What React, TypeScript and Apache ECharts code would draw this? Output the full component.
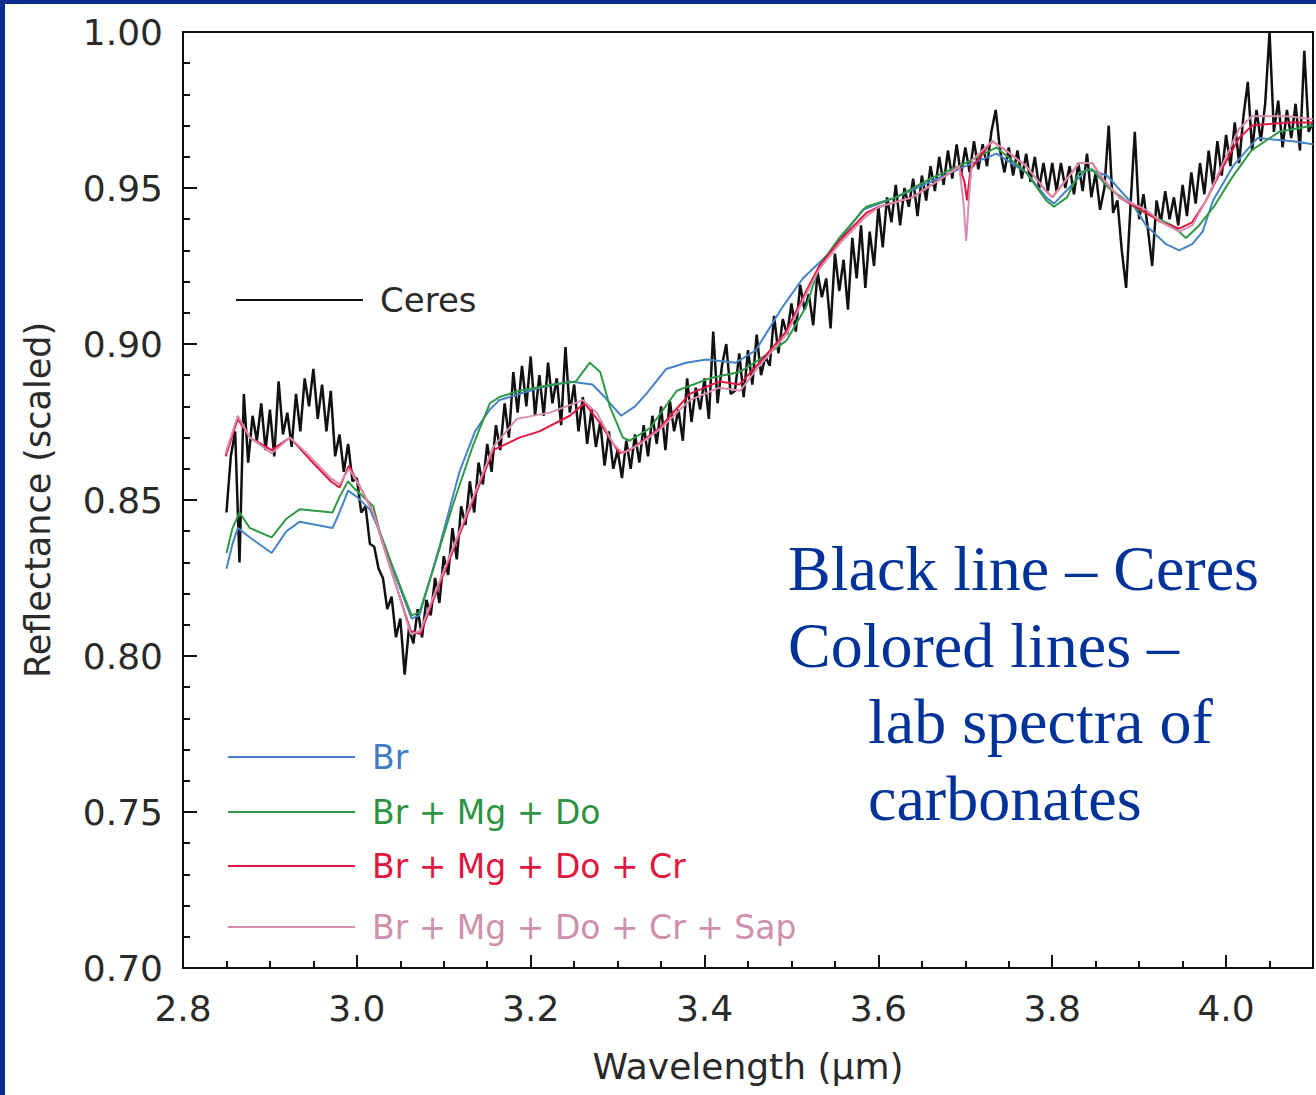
import React, { useEffect, useRef } from "react";
import * as echarts from "echarts";

// Wavelength grid of the Ceres spectrum (µm)
const CERES_START = 2.85;
const CERES_STEP = 0.005;

// Ceres reflectance, one value per grid step from 2.850 to 4.100 µm
const CERES: number[] = [
  0.846, 0.864, 0.872, 0.830, 0.884, 0.862, 0.877, 0.869, 0.881, 0.866,
  0.879, 0.864, 0.888, 0.871, 0.878, 0.867, 0.884, 0.872, 0.889, 0.880,
  0.892, 0.876, 0.887, 0.872, 0.885, 0.864, 0.871, 0.859, 0.868, 0.856,
  0.857, 0.846, 0.848, 0.836, 0.835, 0.828, 0.825, 0.815, 0.819, 0.806,
  0.812, 0.794, 0.809, 0.804, 0.815, 0.806, 0.818, 0.813, 0.825, 0.817,
  0.832, 0.826, 0.841, 0.831, 0.848, 0.842, 0.856, 0.846, 0.862, 0.855,
  0.868, 0.859, 0.874, 0.866, 0.881, 0.870, 0.891, 0.878, 0.893, 0.880,
  0.896, 0.877, 0.890, 0.877, 0.894, 0.881, 0.889, 0.874, 0.899, 0.878,
  0.887, 0.872, 0.883, 0.868, 0.879, 0.867, 0.875, 0.861, 0.872, 0.860,
  0.866, 0.857, 0.869, 0.860, 0.871, 0.862, 0.874, 0.864, 0.877, 0.868,
  0.880, 0.866, 0.882, 0.872, 0.879, 0.869, 0.889, 0.875, 0.886, 0.879,
  0.889, 0.876, 0.904, 0.881, 0.893, 0.900, 0.884, 0.885, 0.897, 0.883,
  0.898, 0.887, 0.903, 0.890, 0.896, 0.893, 0.909, 0.897, 0.908, 0.903,
  0.913, 0.904, 0.919, 0.911, 0.916, 0.906, 0.923, 0.915, 0.921, 0.905,
  0.929, 0.917, 0.927, 0.911, 0.934, 0.921, 0.938, 0.918, 0.936, 0.925,
  0.944, 0.931, 0.947, 0.939, 0.951, 0.938, 0.950, 0.944, 0.953, 0.941,
  0.954, 0.946, 0.957, 0.949, 0.960, 0.951, 0.962, 0.953, 0.964, 0.954,
  0.963, 0.955, 0.965, 0.956, 0.964, 0.957, 0.968, 0.975, 0.962, 0.955,
  0.963, 0.954, 0.962, 0.953, 0.961, 0.952, 0.960, 0.950, 0.958, 0.949,
  0.958, 0.949, 0.958, 0.950, 0.957, 0.948, 0.958, 0.949, 0.961, 0.947,
  0.955, 0.943, 0.950, 0.970, 0.942, 0.946, 0.930, 0.918, 0.944, 0.968,
  0.940, 0.948, 0.937, 0.925, 0.946, 0.939, 0.949, 0.940, 0.947, 0.938,
  0.951, 0.941, 0.955, 0.945, 0.958, 0.948, 0.962, 0.951, 0.965, 0.954,
  0.967, 0.957, 0.971, 0.958, 0.973, 0.984, 0.962, 0.975, 0.965, 0.977,
  1.000, 0.968, 0.978, 0.963, 0.975, 0.966, 0.977, 0.962, 0.994, 0.968, 0.971,
];

// Laboratory spectra: [wavelength µm, reflectance]
const BR: [number, number][] = [
  [2.850, 0.828], [2.857, 0.836], [2.863, 0.841], [2.877, 0.838], [2.902, 0.833],
  [2.919, 0.840], [2.934, 0.843], [2.972, 0.841], [2.980, 0.846], [2.990, 0.853],
  [3.000, 0.851], [3.015, 0.847], [3.026, 0.840], [3.044, 0.826], [3.063, 0.812],
  [3.072, 0.813], [3.095, 0.835], [3.118, 0.859], [3.136, 0.872], [3.153, 0.879],
  [3.164, 0.882], [3.210, 0.886], [3.245, 0.888], [3.271, 0.887], [3.285, 0.883],
  [3.304, 0.877], [3.320, 0.880], [3.333, 0.884], [3.356, 0.892], [3.379, 0.894],
  [3.402, 0.895], [3.436, 0.894], [3.459, 0.898], [3.490, 0.912], [3.513, 0.921],
  [3.543, 0.929], [3.582, 0.943], [3.620, 0.947], [3.660, 0.952], [3.700, 0.957],
  [3.736, 0.961], [3.770, 0.955], [3.793, 0.947], [3.802, 0.945], [3.840, 0.956],
  [3.863, 0.954], [3.892, 0.945], [3.908, 0.938], [3.931, 0.932], [3.946, 0.930],
  [3.961, 0.932], [3.973, 0.936], [3.985, 0.946], [4.008, 0.957], [4.036, 0.966],
  [4.077, 0.965], [4.100, 0.964],
];

const BR_MG_DO: [number, number][] = [
  [2.850, 0.833], [2.857, 0.841], [2.865, 0.846], [2.877, 0.841], [2.902, 0.838],
  [2.919, 0.844], [2.934, 0.847], [2.972, 0.846], [2.980, 0.851], [2.990, 0.856],
  [2.996, 0.854], [3.019, 0.848], [3.026, 0.840], [3.042, 0.828], [3.063, 0.813],
  [3.072, 0.814], [3.087, 0.827], [3.110, 0.848], [3.133, 0.867], [3.153, 0.881],
  [3.164, 0.883], [3.187, 0.885], [3.225, 0.887], [3.252, 0.888], [3.268, 0.894],
  [3.280, 0.891], [3.291, 0.880], [3.306, 0.870], [3.314, 0.869], [3.337, 0.873],
  [3.368, 0.885], [3.406, 0.889], [3.440, 0.891], [3.463, 0.895], [3.494, 0.901],
  [3.517, 0.912], [3.532, 0.925], [3.555, 0.934], [3.586, 0.944], [3.620, 0.947],
  [3.660, 0.953], [3.700, 0.958], [3.736, 0.963], [3.770, 0.955], [3.793, 0.946],
  [3.802, 0.944], [3.817, 0.947], [3.831, 0.955], [3.846, 0.956], [3.865, 0.950],
  [3.900, 0.943], [3.938, 0.938], [3.954, 0.934], [3.969, 0.938], [3.986, 0.944],
  [4.006, 0.953], [4.029, 0.962], [4.061, 0.968], [4.100, 0.970],
];

const BR_MG_DO_CR: [number, number][] = [
  [2.849, 0.864], [2.863, 0.876], [2.877, 0.870], [2.902, 0.866], [2.923, 0.870],
  [2.946, 0.863], [2.970, 0.856], [2.980, 0.854], [2.991, 0.861], [3.004, 0.854],
  [3.019, 0.846], [3.031, 0.835], [3.047, 0.821], [3.062, 0.808], [3.073, 0.807],
  [3.088, 0.818], [3.111, 0.834], [3.134, 0.850], [3.157, 0.866], [3.187, 0.870],
  [3.210, 0.872], [3.245, 0.877], [3.262, 0.881], [3.279, 0.875], [3.302, 0.865],
  [3.314, 0.866], [3.329, 0.869], [3.348, 0.873], [3.383, 0.884], [3.417, 0.888],
  [3.440, 0.887], [3.460, 0.893], [3.494, 0.904], [3.517, 0.917], [3.532, 0.925],
  [3.555, 0.933], [3.586, 0.942], [3.601, 0.944], [3.639, 0.947], [3.678, 0.954],
  [3.693, 0.957], [3.699, 0.952], [3.702, 0.946], [3.706, 0.956], [3.731, 0.965],
  [3.747, 0.962], [3.770, 0.957], [3.793, 0.949], [3.800, 0.947], [3.817, 0.953],
  [3.831, 0.958], [3.846, 0.958], [3.858, 0.953], [3.877, 0.947], [3.908, 0.942],
  [3.926, 0.939], [3.946, 0.937], [3.961, 0.939], [3.977, 0.946], [3.995, 0.956],
  [4.015, 0.966], [4.030, 0.970], [4.070, 0.971], [4.100, 0.971],
];

const BR_MG_DO_CR_SAP: [number, number][] = [
  [2.849, 0.865], [2.863, 0.877], [2.877, 0.870], [2.902, 0.865], [2.923, 0.870],
  [2.946, 0.864], [2.970, 0.857], [2.980, 0.855], [2.991, 0.860], [3.004, 0.854],
  [3.019, 0.846], [3.031, 0.835], [3.047, 0.821], [3.062, 0.807], [3.073, 0.808],
  [3.088, 0.819], [3.111, 0.835], [3.134, 0.851], [3.157, 0.867], [3.184, 0.876],
  [3.222, 0.878], [3.260, 0.882], [3.276, 0.878], [3.295, 0.868], [3.306, 0.865],
  [3.326, 0.868], [3.350, 0.873], [3.383, 0.882], [3.417, 0.886], [3.441, 0.885],
  [3.460, 0.892], [3.494, 0.903], [3.517, 0.916], [3.532, 0.924], [3.555, 0.932],
  [3.586, 0.941], [3.601, 0.944], [3.639, 0.947], [3.678, 0.954], [3.693, 0.957],
  [3.698, 0.945], [3.701, 0.933], [3.705, 0.950], [3.708, 0.959], [3.731, 0.965],
  [3.747, 0.962], [3.770, 0.957], [3.793, 0.949], [3.800, 0.947], [3.817, 0.953],
  [3.831, 0.958], [3.846, 0.958], [3.858, 0.953], [3.877, 0.947], [3.908, 0.943],
  [3.926, 0.939], [3.946, 0.936], [3.961, 0.938], [3.977, 0.946], [3.995, 0.957],
  [4.015, 0.969], [4.030, 0.973], [4.070, 0.973], [4.100, 0.972],
];

const SERIES_NAMES = [
  "Ceres",
  "Br",
  "Br + Mg + Do",
  "Br + Mg + Do + Cr",
  "Br + Mg + Do + Cr + Sap",
];
const LINE_COLORS = ["#111111", "#4582c6", "#2f9a46", "#e0173f", "#d68db0"];
const LABEL_COLORS = ["#2a2a2a", "#3f7cc4", "#2e9443", "#e0173f", "#cf90ad"];
const LINE_WIDTHS = [2.5, 2, 2, 2, 2];

const NOTE_LINES = ["Black line \u2013 Ceres", "Colored lines \u2013", "lab spectra of", "carbonates"];

const X_NAME = "Wavelength (\u00b5m)";
const Y_NAME = "Reflectance (scaled)";

const SANS = "'DejaVu Sans', Verdana, sans-serif";
const SERIF = "'Liberation Serif', 'Times New Roman', serif";
const TEXT_GREY = "#2a2a2a";

function buildOption(): echarts.EChartsOption {
  const ceresData = CERES.map((v, i) => [+(CERES_START + i * CERES_STEP).toFixed(3), v]);
  const seriesData = [ceresData, BR, BR_MG_DO, BR_MG_DO_CR, BR_MG_DO_CR_SAP];

  const legendTop = [280, 737, 792, 846, 907];
  const legendLeft = [236, 228, 228, 228, 228];

  const noteX = [788, 788, 868, 868];
  const noteBaseline = [590, 667, 743, 820];

  const axisText = { fontFamily: SANS, fontSize: 36, color: TEXT_GREY };

  return {
    animation: false,
    backgroundColor: "#ffffff",
    grid: {
      left: 183,
      top: 32,
      right: 3,
      bottom: 1095 - 968,
      show: true,
      borderColor: "#111",
      borderWidth: 2,
      backgroundColor: "transparent",
    },
    xAxis: [
      {
        type: "value",
        min: 2.8,
        max: 4.1,
        interval: 0.2,
        position: "bottom",
        axisLine: { lineStyle: { color: "#111", width: 2 } },
        axisTick: { inside: true, length: 13, lineStyle: { color: "#111", width: 2 } },
        axisLabel: {
          ...axisText,
          margin: 22,
          showMaxLabel: false,
          formatter: (v: number) => v.toFixed(1),
        },
        splitLine: { show: false },
        name: X_NAME,
        nameLocation: "middle",
        nameGap: 80,
        nameTextStyle: { fontFamily: SANS, fontSize: 36, color: TEXT_GREY },
      },
      {
        type: "value",
        min: 2.8,
        max: 4.1,
        interval: 0.05,
        position: "bottom",
        axisLine: { show: false },
        axisTick: { inside: true, length: 7, lineStyle: { color: "#111", width: 2 } },
        axisLabel: { show: false },
        splitLine: { show: false },
      },
    ],
    yAxis: [
      {
        type: "value",
        min: 0.7,
        max: 1.0,
        interval: 0.05,
        position: "left",
        axisLine: { show: true, lineStyle: { color: "#111", width: 2 } },
        axisTick: { show: true, inside: true, length: 14, lineStyle: { color: "#111", width: 2 } },
        axisLabel: { ...axisText, margin: 20, formatter: (v: number) => v.toFixed(2) },
        splitLine: { show: false },
        name: Y_NAME,
        nameLocation: "middle",
        nameGap: 128,
        nameTextStyle: { fontFamily: SANS, fontSize: 35, color: TEXT_GREY },
      },
      {
        type: "value",
        min: 0.7,
        max: 1.0,
        interval: 0.01,
        position: "left",
        axisLine: { show: false },
        axisTick: { show: true, inside: true, length: 7, lineStyle: { color: "#111", width: 2 } },
        axisLabel: { show: false },
        splitLine: { show: false },
      },
    ],
    legend: SERIES_NAMES.map((name, i) => ({
      data: [{ name, textStyle: { color: LABEL_COLORS[i] } }],
      left: legendLeft[i],
      top: legendTop[i],
      padding: 0,
      icon: "rect",
      itemWidth: 127,
      itemHeight: 2,
      selectedMode: false,
      textStyle: {
        fontFamily: SANS,
        fontSize: i === 0 ? 34 : 33,
        lineHeight: 40,
        padding: [0, 0, 0, 12],
      },
    })),
    series: SERIES_NAMES.map((name, i) => ({
      name,
      type: "line",
      data: seriesData[i],
      xAxisIndex: 0,
      yAxisIndex: 0,
      symbol: "none",
      showSymbol: false,
      color: LINE_COLORS[i],
      lineStyle: { color: LINE_COLORS[i], width: LINE_WIDTHS[i] },
      z: 2 + i,
    })),
    graphic: [
      { type: "rect", left: 0, top: 0, shape: { width: 5, height: 1095 }, style: { fill: "#0b2c8c" }, silent: true },
      { type: "rect", left: 0, top: 0, shape: { width: 1316, height: 4 }, style: { fill: "#0b2c8c" }, silent: true },
      ...NOTE_LINES.map((text, i) => ({
        type: "text" as const,
        x: noteX[i],
        y: noteBaseline[i] - 22,
        silent: true,
        style: {
          text,
          fill: "#003399",
          font: `64px ${SERIF}`,
          textAlign: "left",
          textVerticalAlign: "middle",
        },
      })),
    ],
  } as echarts.EChartsOption;
}

export default function App() {
  const ref = useRef<HTMLDivElement>(null);

  useEffect(() => {
    if (!ref.current) return;
    const chart = echarts.init(ref.current, undefined, { renderer: "svg" });
    chart.setOption(buildOption());
    return () => chart.dispose();
  }, []);

  return (
    <div
      ref={ref}
      style={{ position: "absolute", left: 0, top: 0, width: 1316, height: 1095, background: "#fff" }}
    />
  );
}
